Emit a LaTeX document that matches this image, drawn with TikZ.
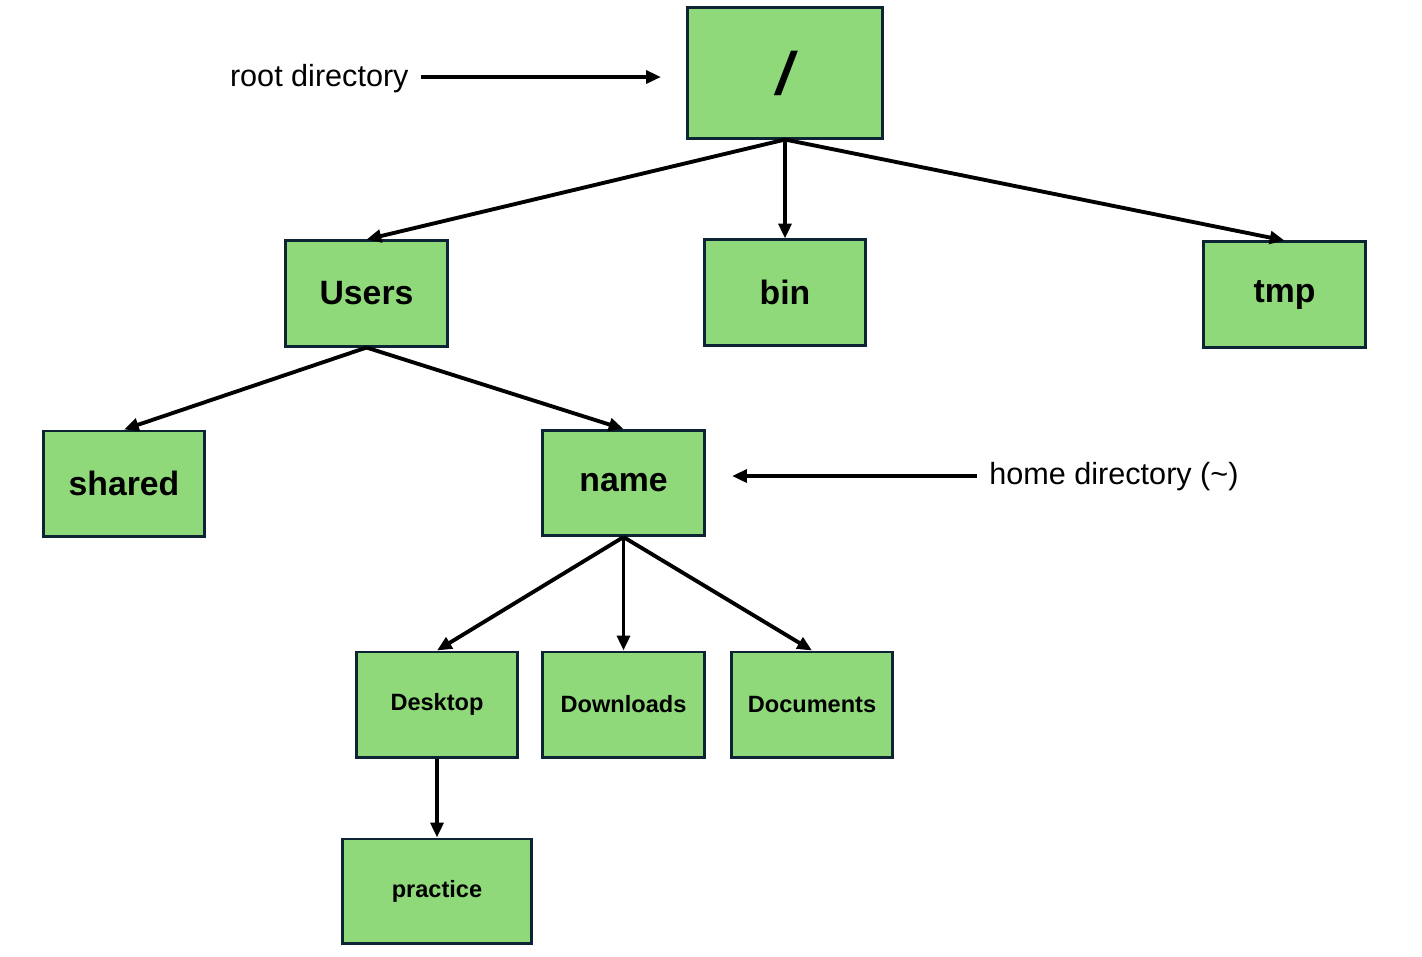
\documentclass[tikz,border=0pt]{standalone}
\usepackage{fontspec}
\setmainfont{Liberation Sans}
\usetikzlibrary{arrows.meta}

\definecolor{boxgreen}{RGB}{143,217,122}
\definecolor{boxline}{RGB}{12,36,52}

\begin{document}
\begin{tikzpicture}[x=0.01cm,y=-0.01cm,
		dir/.style={draw=boxline,fill=boxgreen,line width=0.85pt,minimum width=1.61cm,minimum height=1.05cm,inner sep=0pt,font=\fontsize{9.6}{11}\selectfont\bfseries},
		subdir/.style={dir,font=\fontsize{6.7}{8}\selectfont\bfseries},
		arr/.style={line width=1.1pt,-{Triangle[length=4.2pt,width=3.6pt]}},
		lbl/.style={font=\fontsize{8.7}{10}\selectfont}]
		\useasboundingbox (0,0) rectangle (1422,956);
		
		\node[dir,minimum width=1.94cm,minimum height=1.30cm,font=\fontsize{17}{20}\selectfont\bfseries\itshape] (root) at (785,73){/};
		
		\node[dir] (users) at (366.5,293.5){Users};
		\node[dir] (bin) at (785,292.5){bin};
		\node[dir] (tmp) at (1284.5,294.5){tmp};
		
		\node[dir] (shared) at (124,483.5){shared};
		\node[dir] (name) at (623.5,483){name};
		
		\node[subdir] (desktop) at (437,704.5){Desktop};
		\node[subdir] (downloads) at (623.5,704.5){Downloads};
		\node[subdir] (documents) at (812,704.5){Documents};
		
		\node[subdir,minimum width=1.88cm,minimum height=1.04cm] (practice) at (437,891){practice};
		
		\draw[arr] (root.south) -- (users.north);
		\draw[arr] (root.south) -- (bin.north);
		\draw[arr] (root.south) -- (tmp.north);
		\draw[arr] (users.south) -- (shared.north);
		\draw[arr] (users.south) -- (name.north);
		\draw[arr] (name.south) -- (desktop.north);
		\draw[arr] (name.south) -- (downloads.north);
		\draw[arr] (name.south) -- (documents.north);
		\draw[arr] (desktop.south) -- (practice.north);
		
		% side labels
		\node[lbl,anchor=east] (rootlbl) at (421,79){root directory};
		\coordinate (rootend) at (661,77);
		\draw[arr] (rootlbl.east |- rootend) -- (rootend);
		
		\node[lbl,anchor=west] (homelbl) at (977,477){home directory (\textasciitilde)};
		\coordinate (homeend) at (732,476);
		\draw[arr] (homelbl.west |- homeend) -- (homeend);
	\end{tikzpicture}
\end{document}
